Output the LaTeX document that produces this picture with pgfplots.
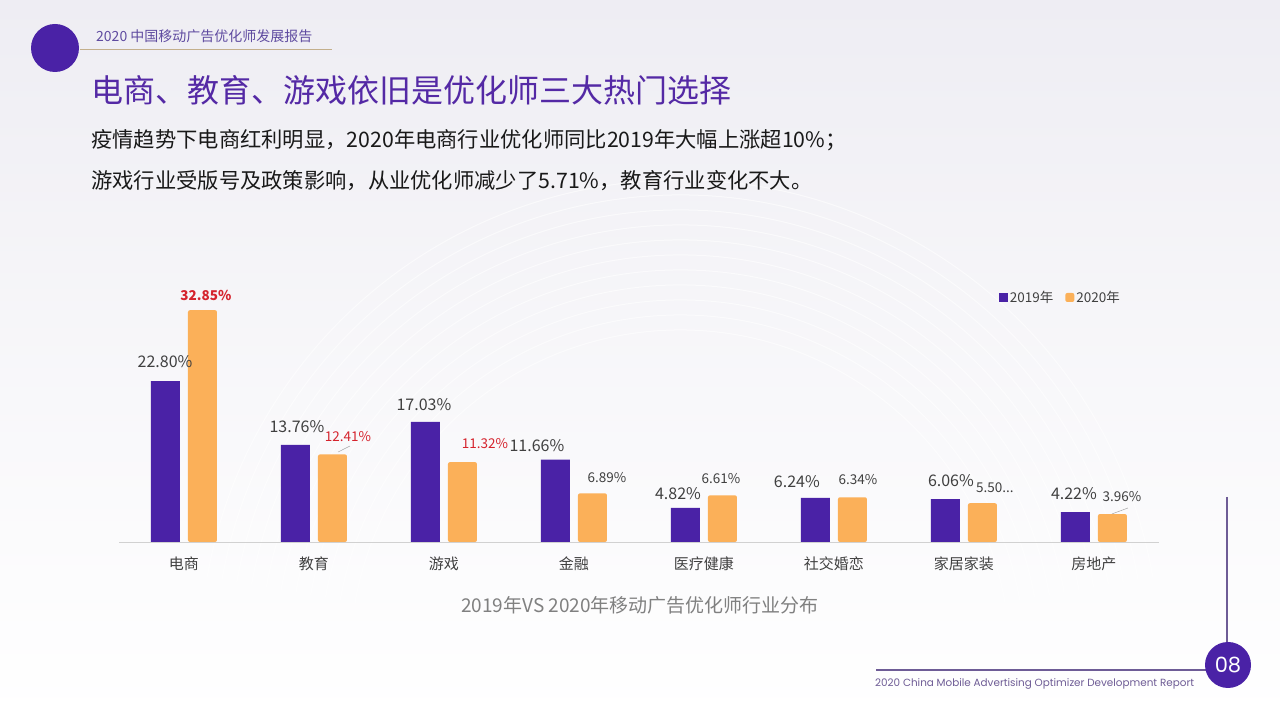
\documentclass[border=0pt]{standalone}
\usepackage{fontspec}
\setmainfont{Noto Sans CJK SC}
\newfontfamily\poppins{Poppins}
\usepackage{pgfplots}
\pgfplotsset{compat=1.18}
\definecolor{p19}{RGB}{74,34,166}
\definecolor{p20}{RGB}{251,176,89}
\definecolor{ttl}{RGB}{84,41,165}
\definecolor{redv}{RGB}{213,35,45}
\definecolor{lab}{RGB}{64,64,64}
\definecolor{bgtop}{RGB}{238,237,243}
\definecolor{hdr}{RGB}{95,75,160}
\definecolor{gold}{RGB}{195,175,140}
\definecolor{ftr}{RGB}{110,92,150}
\tikzset{
  v19/.style={font=\fontsize{16}{18}\selectfont, text=lab},
  v20/.style={font=\fontsize{13.5}{16}\selectfont, text=lab},
  vred/.style={font=\fontsize{13.5}{16}\selectfont, text=redv},
}
\begin{document}
\begin{tikzpicture}[x=1pt,y=1pt]
\useasboundingbox (0,0) rectangle (1280,720);
\shade[top color=bgtop, bottom color=white, middle color=bgtop!45!white] (0,0) rectangle (1280,720);
% faint arcs
\foreach \r in {330,345,...,480}{
  \draw[white, opacity=0.6, line width=1pt] (680,60) ++(10:\r) arc (10:170:\r);
}
% header
\fill[p19] (55,672) circle (24);
\draw[gold, line width=1pt] (80,670) -- (332,670);
\node[anchor=west, text=hdr, font=\fontsize{14}{16}\selectfont, inner sep=0] at (96,684) {2020 中国移动广告优化师发展报告};
% title
\node[anchor=west, text=ttl, font=\fontsize{32}{36}\selectfont, inner sep=0] at (91,630) {电商、教育、游戏依旧是优化师三大热门选择};
\node[anchor=west, text=black!90, font=\fontsize{21.3}{24}\selectfont, inner sep=0] at (91,580) {疫情趋势下电商红利明显，2020年电商行业优化师同比2019年大幅上涨超10\%；};
\node[anchor=west, text=black!90, font=\fontsize{21.3}{24}\selectfont, inner sep=0] at (91,539) {游戏行业受版号及政策影响，从业优化师减少了5.71\%，教育行业变化不大。};
% footer
\draw[ftr, line width=1.5pt] (1227,223) -- (1227,78);
\draw[ftr, line width=1.5pt] (876,50) -- (1210,50);
\fill[p19] (1228,55) circle (23);
\node[text=white, font=\poppins\fontsize{21}{24}\selectfont] at (1228,55) {08};
\node[anchor=west, text=ftr, font=\poppins\fontsize{10.4}{12}\selectfont, inner sep=0] at (875,36) {2020 China Mobile Advertising Optimizer Development Report};
% caption
\node[text=black!50, font=\fontsize{19}{22}\selectfont] at (640,115) {2019年VS 2020年移动广告优化师行业分布};
\begin{axis}[
  at={(119pt,178pt)}, anchor=south west,
  scale only axis, width=1040pt, height=247pt,
  xmin=-0.5, xmax=7.5, ymin=0, ymax=35,
  axis x line*=bottom, axis y line=none,
  axis line style={draw=black!18, line width=0.8pt, -},
  xtick={0,...,7},
  xticklabels={电商,教育,游戏,金融,医疗健康,社交婚恋,家居家装,房地产},
  major tick length=0pt,
  xticklabel style={font=\fontsize{15}{18}\selectfont, text=lab, yshift=-11pt},
  ybar=8pt, bar width=29pt,
  clip=false,
  legend style={at={(0.843,0.99)}, anchor=west, draw=none, fill=none,
    legend columns=2, font=\fontsize{13.5}{15}\selectfont, text=lab,
    /tikz/every even column/.append style={column sep=10pt}},
  legend image code/.code={\fill[#1] (0pt,-4.5pt) rectangle (9pt,4.5pt);},
]
\addplot[fill=p19, draw=none] coordinates {(0,22.80) (1,13.76) (2,17.03) (3,11.66) (4,4.82) (5,6.24) (6,6.06) (7,4.22)};
\addlegendentry{2019年}
\addplot[fill=p20, draw=none, rounded corners=2pt] coordinates {(0,32.85) (1,12.41) (2,11.32) (3,6.89) (4,6.61) (5,6.34) (6,5.50) (7,3.96)};
\addlegendentry{2020年}
% value labels 2019
\node[v19] at (axis cs:-0.146,25.5) {22.80\%};
\node[v19] at (axis cs:0.869,16.3) {13.76\%};
\node[v19] at (axis cs:1.846,19.5) {17.03\%};
\node[v19] at (axis cs:2.715,13.7) {11.66\%};
\node[v19] at (axis cs:3.800,6.8) {4.82\%};
\node[v19] at (axis cs:4.715,8.5) {6.24\%};
\node[v19] at (axis cs:5.900,8.64) {6.06\%};
\node[v19] at (axis cs:6.846,6.8) {4.22\%};
% value labels 2020
\node[vred, font=\bfseries\fontsize{13.5}{16}\selectfont] at (axis cs:0.169,35.0) {32.85\%};
\node[vred] at (axis cs:1.262,14.9) {12.41\%};
\node[vred] at (axis cs:2.315,13.9) {11.32\%};
\node[v20] at (axis cs:3.254,9.07) {6.89\%};
\node[v20] at (axis cs:4.131,8.92) {6.61\%};
\node[v20] at (axis cs:5.185,8.78) {6.34\%};
\node[v20] at (axis cs:6.238,7.65) {5.50...};
\node[v20] at (axis cs:7.215,6.5) {3.96\%};
\draw[black!35, line width=0.5pt] (axis cs:1.185,12.75) -- (axis cs:1.277,13.6);
\draw[black!35, line width=0.5pt] (axis cs:7.138,3.97) -- (axis cs:7.262,4.82);
\end{axis}
\end{tikzpicture}
\end{document}
